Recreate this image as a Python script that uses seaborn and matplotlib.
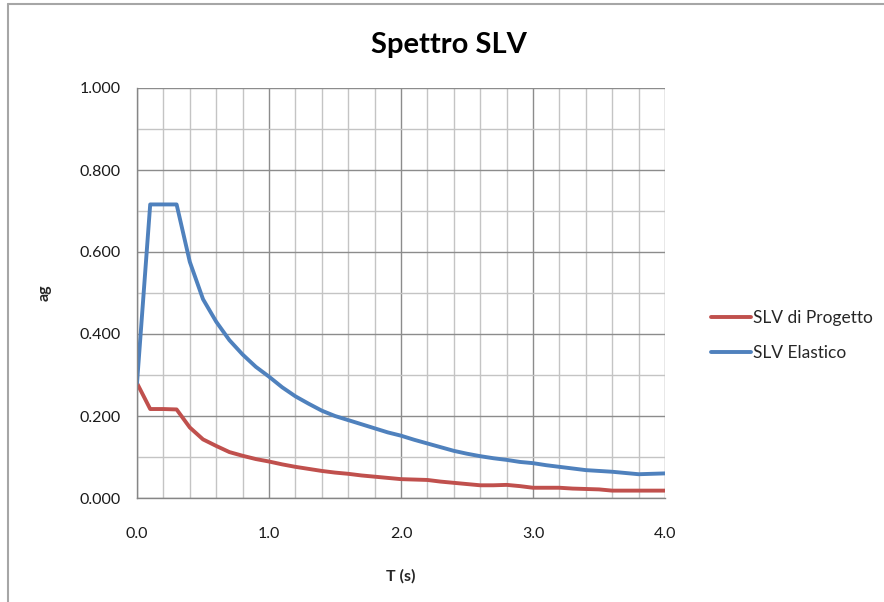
import matplotlib
matplotlib.use("Agg")

import matplotlib.pyplot as plt
import seaborn as sns
import pandas as pd
from matplotlib.ticker import MultipleLocator, FormatStrFormatter
from matplotlib.lines import Line2D

# periodo T (s)
periodi = [0.0, 0.1, 0.2, 0.3, 0.4, 0.5, 0.6, 0.7, 0.8, 0.9,
           1.0, 1.1, 1.2, 1.3, 1.4, 1.5, 1.6, 1.7, 1.8, 1.9,
           2.0, 2.1, 2.2, 2.3, 2.4, 2.5, 2.6, 2.7, 2.8, 2.9,
           3.0, 3.1, 3.2, 3.3, 3.4, 3.5, 3.6, 3.7, 3.8, 3.9, 4.0]

slv_progetto = [0.280, 0.217, 0.217, 0.216, 0.172, 0.143, 0.127, 0.112, 0.103, 0.095,
                0.089, 0.082, 0.076, 0.071, 0.066, 0.062, 0.059, 0.055, 0.052, 0.049,
                0.046, 0.045, 0.044, 0.040, 0.037, 0.034, 0.031, 0.031, 0.032, 0.029,
                0.025, 0.025, 0.025, 0.023, 0.022, 0.021, 0.018, 0.018, 0.018, 0.018, 0.018]

slv_elastico = [0.280, 0.716, 0.716, 0.716, 0.576, 0.485, 0.430, 0.385, 0.350, 0.320,
                0.296, 0.270, 0.248, 0.230, 0.213, 0.200, 0.190, 0.180, 0.170, 0.160,
                0.152, 0.142, 0.133, 0.124, 0.115, 0.108, 0.102, 0.097, 0.093, 0.088,
                0.085, 0.080, 0.076, 0.072, 0.068, 0.066, 0.064, 0.061, 0.058, 0.059, 0.060]

serie = ["SLV di Progetto", "SLV Elastico"]
colori = ["#C0504D", "#4F81BD"]

df = pd.DataFrame({
    "T": periodi * 2,
    "ag": slv_progetto + slv_elastico,
    "serie": [serie[0]] * len(periodi) + [serie[1]] * len(periodi),
})

sns.set_style("white")
plt.rcParams["font.family"] = ["Lato", "DejaVu Sans"]

fig = plt.figure(figsize=(8.84, 6.02), dpi=100)
ax = fig.add_axes([137 / 884, 1 - 498 / 602, (665 - 137) / 884, (498 - 88) / 602])

# griglia stile Excel
ax.xaxis.set_major_locator(MultipleLocator(1.0))
ax.xaxis.set_minor_locator(MultipleLocator(0.2))
ax.yaxis.set_major_locator(MultipleLocator(0.2))
ax.yaxis.set_minor_locator(MultipleLocator(0.1))
ax.grid(which="major", color="#8c8c8c", linewidth=1.0)
ax.grid(which="minor", color="#c4c4c4", linewidth=1.0)
ax.set_axisbelow(True)

sns.lineplot(data=df, x="T", y="ag", hue="serie", palette=colori,
             linewidth=2.8, ax=ax, legend=False, sort=False)

ax.set_xlim(0, 4.0)
ax.set_ylim(0, 1.0)
ax.xaxis.set_major_formatter(FormatStrFormatter("%.1f"))
ax.yaxis.set_major_formatter(FormatStrFormatter("%.3f"))

for s in ["top", "right"]:
    ax.spines[s].set_visible(False)
for s in ["left", "bottom"]:
    ax.spines[s].set_color("#868686")
    ax.spines[s].set_linewidth(1.0)

ax.tick_params(which="major", direction="out", length=5, width=1, color="#868686",
               labelsize=11.5, labelcolor="#1a1a1a")
ax.tick_params(which="minor", length=0)
ax.tick_params(axis="x", pad=16)
ax.tick_params(axis="y", pad=7)

ax.set_xlabel("T (s)", fontsize=11.5, fontweight="bold", labelpad=20)
ax.set_ylabel("ag", fontsize=11.5, fontweight="bold", labelpad=20)

fig.text(0.508, 0.925, "Spettro SLV", ha="center", va="center",
         fontsize=21, fontweight="bold", color="#000000")

handles = [Line2D([0], [0], color=c, linewidth=2.8) for c in colori]
fig.legend(handles, serie, loc="center left", bbox_to_anchor=(0.787, 0.443),
           frameon=False, fontsize=12.5, handlelength=2.3, handletextpad=0.1,
           labelspacing=1.1)

# bordo del grafico
fig.add_artist(Line2D([8 / 884, 8 / 884], [0, 1 - 4 / 602], color="#a6a6a6", linewidth=1.5))
fig.add_artist(Line2D([8 / 884, 1], [1 - 4 / 602, 1 - 4 / 602], color="#a6a6a6", linewidth=1.5))

fig.savefig("out.png", dpi=100)
plt.close(fig)
